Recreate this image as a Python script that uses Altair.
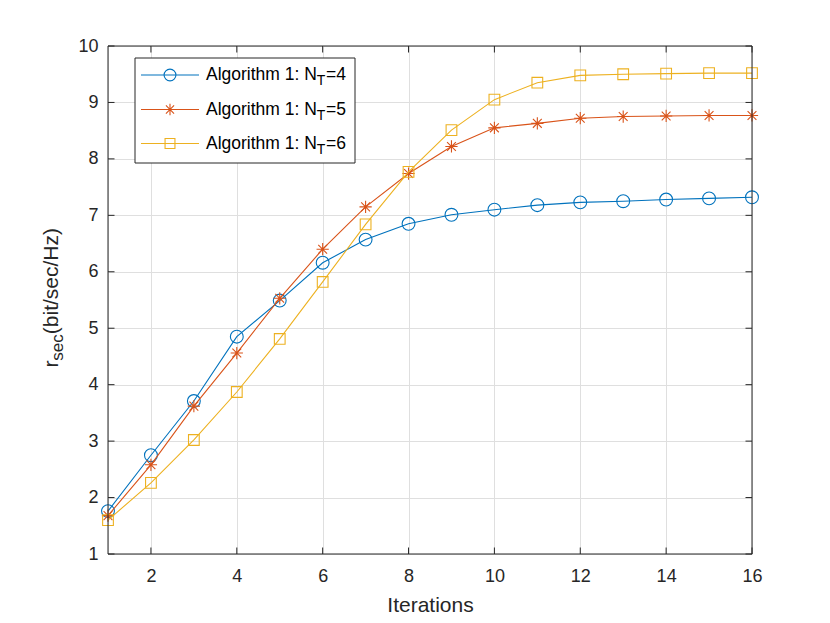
import altair as alt
import pandas as pd

# ---------------- data ----------------
iterations = list(range(1, 17))
rate_nt4 = [1.76, 2.75, 3.71, 4.85, 5.49, 6.16, 6.57, 6.85, 7.01, 7.10, 7.18, 7.23, 7.25, 7.28, 7.30, 7.32]
rate_nt5 = [1.68, 2.58, 3.62, 4.56, 5.53, 6.40, 7.15, 7.74, 8.22, 8.55, 8.63, 8.72, 8.75, 8.76, 8.77, 8.77]
rate_nt6 = [1.60, 2.26, 3.02, 3.87, 4.81, 5.82, 6.84, 7.77, 8.51, 9.05, 9.35, 9.48, 9.50, 9.51, 9.52, 9.52]
series_values = [rate_nt4, rate_nt5, rate_nt6]
series_suffix = ["=4", "=5", "=6"]
legend_prefix = "Algorithm 1: N"
legend_sub = "T"
x_ticks = [2, 4, 6, 8, 10, 12, 14, 16]
y_ticks = [1, 2, 3, 4, 5, 6, 7, 8, 9, 10]
x_title = "Iterations"
y_title_main = "r"
y_title_sub = "sec"
y_title_rest = "(bit/sec/Hz)"

# ---------------- style ----------------
colors = ["#0072BD", "#D95319", "#EDB120"]
asterisk = "M0,-1L0,1M-1,0L1,0M-0.72,-0.72L0.72,0.72M-0.72,0.72L0.72,-0.72"
shapes = ["circle", asterisk, "square"]
sizes = [165, 150, 115]
W, H = 644, 508
FONT = "Liberation Sans"
INK = "#262626"
GRID = "#dfdfdf"
TICK = 6.5
LAB = 18
TIT = 21
SUB = 17

xs = alt.Scale(domain=[1, 16], nice=False, zero=False)
ys = alt.Scale(domain=[1, 10], nice=False, zero=False)

x_axis = alt.Axis(values=x_ticks, title=x_title, grid=True, gridColor=GRID, gridWidth=1,
                  tickSize=0, domain=False, labelFont=FONT, labelFontSize=LAB, labelColor=INK,
                  labelPadding=13, labelFlush=False, labelOverlap=False,
                  titleFont=FONT, titleFontSize=TIT, titleFontWeight="normal", titleColor=INK,
                  titlePadding=9)
y_axis = alt.Axis(values=y_ticks, title=None, grid=True, gridColor=GRID, gridWidth=1,
                  tickSize=0, domain=False, labelFont=FONT, labelFontSize=LAB, labelColor=INK,
                  labelPadding=10, labelFlush=False, labelOverlap=False)

one = pd.DataFrame({"k": [0]})
layers = []

# axes / grid carrier
base_df = pd.DataFrame({"iter": iterations, "rate": rate_nt4})
layers.append(alt.Chart(base_df).mark_point(opacity=0).encode(
    x=alt.X("iter:Q", scale=xs, axis=x_axis),
    y=alt.Y("rate:Q", scale=ys, axis=y_axis)))

# series
for vals, col, shp, sz in zip(series_values, colors, shapes, sizes):
    d = pd.DataFrame({"iter": iterations, "rate": vals})
    enc = dict(x=alt.X("iter:Q", scale=xs, axis=x_axis), y=alt.Y("rate:Q", scale=ys, axis=y_axis))
    layers.append(alt.Chart(d).mark_line(color=col, strokeWidth=1.1).encode(**enc))
    layers.append(alt.Chart(d).mark_point(color=col, shape=shp, size=sz, filled=False,
                                          strokeWidth=1.1, opacity=1).encode(**enc))

# inward ticks
xt = pd.DataFrame({"iter": x_ticks})
yt = pd.DataFrame({"rate": y_ticks})
layers.append(alt.Chart(xt).mark_rule(color=INK, strokeWidth=1).encode(
    x=alt.X("iter:Q", scale=xs, axis=x_axis), y=alt.value(H), y2=alt.value(H - TICK)))
layers.append(alt.Chart(xt).mark_rule(color=INK, strokeWidth=1).encode(
    x=alt.X("iter:Q", scale=xs, axis=x_axis), y=alt.value(0), y2=alt.value(TICK)))
layers.append(alt.Chart(yt).mark_rule(color=INK, strokeWidth=1).encode(
    y=alt.Y("rate:Q", scale=ys, axis=y_axis), x=alt.value(0), x2=alt.value(TICK)))
layers.append(alt.Chart(yt).mark_rule(color=INK, strokeWidth=1).encode(
    y=alt.Y("rate:Q", scale=ys, axis=y_axis), x=alt.value(W), x2=alt.value(W - TICK)))

# box
layers.append(alt.Chart(one).mark_rule(color=INK, strokeWidth=1).encode(
    x=alt.value(0), x2=alt.value(W), y=alt.value(0)))
layers.append(alt.Chart(one).mark_rule(color=INK, strokeWidth=1).encode(
    x=alt.value(0), x2=alt.value(W), y=alt.value(H)))
layers.append(alt.Chart(one).mark_rule(color=INK, strokeWidth=1).encode(
    x=alt.value(0), y=alt.value(0), y2=alt.value(H)))
layers.append(alt.Chart(one).mark_rule(color=INK, strokeWidth=1).encode(
    x=alt.value(W), y=alt.value(0), y2=alt.value(H)))

# y title with subscript
y_rest_end = 182
rest_start = y_rest_end + 5.056 * TIT
sub_start = rest_start + 1.556 * SUB
main_start = sub_start + 0.333 * TIT
layers.append(alt.Chart(one).mark_text(text=y_title_main, font=FONT, fontSize=TIT, color=INK,
                                       angle=270, align="left", baseline="alphabetic").encode(
    x=alt.value(-50), y=alt.value(main_start)))
layers.append(alt.Chart(one).mark_text(text=y_title_sub, font=FONT, fontSize=SUB, color=INK,
                                       angle=270, align="left", baseline="alphabetic").encode(
    x=alt.value(-45), y=alt.value(sub_start)))
layers.append(alt.Chart(one).mark_text(text=y_title_rest, font=FONT, fontSize=TIT, color=INK,
                                       angle=270, align="left", baseline="alphabetic").encode(
    x=alt.value(-50), y=alt.value(rest_start)))

# legend
layers.append(alt.Chart(one).mark_rect(fill="white", stroke=INK, strokeWidth=1).encode(
    x=alt.value(27), x2=alt.value(247), y=alt.value(12), y2=alt.value(117)))
rows = [29, 63.5, 97.5]
LEG = 17.5
LSUB = 14
tx = 98
for ry, col, shp, sz, suf in zip(rows, colors, shapes, sizes, series_suffix):
    layers.append(alt.Chart(one).mark_rule(color=col, strokeWidth=1.1).encode(
        x=alt.value(33), x2=alt.value(91), y=alt.value(ry)))
    layers.append(alt.Chart(one).mark_point(color=col, shape=shp, size=sz * 0.85, filled=False,
                                            strokeWidth=1.1, opacity=1).encode(
        x=alt.value(62), y=alt.value(ry)))
    layers.append(alt.Chart(one).mark_text(text=legend_prefix, font=FONT, fontSize=LEG, color="black",
                                           align="left", baseline="middle").encode(
        x=alt.value(tx), y=alt.value(ry)))
    sx = tx + 6.335 * LEG
    layers.append(alt.Chart(one).mark_text(text=legend_sub, font=FONT, fontSize=LSUB, color="black",
                                           align="left", baseline="middle").encode(
        x=alt.value(sx), y=alt.value(ry + 6)))
    layers.append(alt.Chart(one).mark_text(text=suf, font=FONT, fontSize=LEG, color="black",
                                           align="left", baseline="middle").encode(
        x=alt.value(sx + 0.611 * LSUB + 0.5), y=alt.value(ry)))

chart = alt.layer(*layers).properties(
    width=W, height=H,
    autosize=alt.AutoSizeParams(type="none"),
    padding={"left": 100, "top": 38, "right": 62, "bottom": 61},
).configure_view(stroke=None).configure(background="white")

chart.save("out.html", embed_options={"renderer": "svg", "actions": False})
